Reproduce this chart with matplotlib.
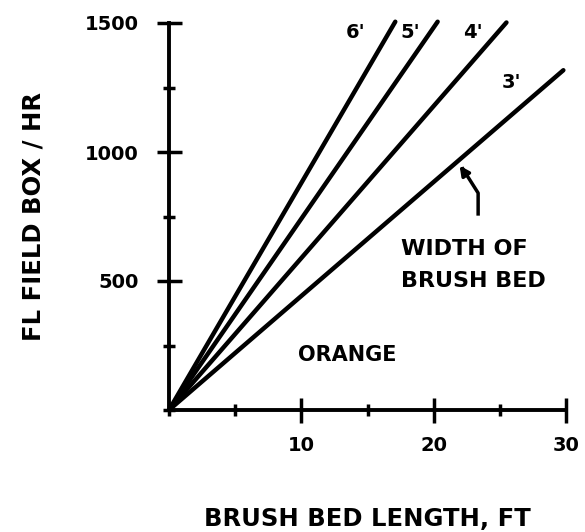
import matplotlib
matplotlib.use("Agg")
import matplotlib.pyplot as plt
from matplotlib.ticker import MultipleLocator

# brush bed width lines: (label, end length ft, end boxes/hr), all start at origin
widths = ["6'", "5'", "4'", "3'"]
end_length = [17.1, 20.3, 25.5, 29.8]
end_boxes = [1505, 1505, 1502, 1317]
label_x = [14.1, 18.2, 23.0, 25.9]
label_y = [1465, 1465, 1465, 1269]

x_ticks = [10, 20, 30]
y_ticks = [500, 1000, 1500]

plt.rcParams["font.family"] = "DejaVu Sans"
plt.rcParams["font.weight"] = "bold"

fig = plt.figure(figsize=(5.85, 5.32), dpi=100)
ax = fig.add_axes([169 / 585, 122 / 532, 397 / 585, 387 / 532])

for w, xe, ye, lx, ly in zip(widths, end_length, end_boxes, label_x, label_y):
    ax.plot([0, xe], [0, ye], color="black", lw=3.2, solid_capstyle="round", clip_on=False)
    ax.text(lx, ly, w, fontsize=14, fontweight="bold", ha="center", va="center")

ax.set_xlim(0, 30)
ax.set_ylim(0, 1500)
ax.spines["top"].set_visible(False)
ax.spines["right"].set_visible(False)
ax.spines["left"].set_linewidth(2.8)
ax.spines["bottom"].set_linewidth(2.8)

ax.set_xticks(x_ticks)
ax.set_yticks(y_ticks)
ax.xaxis.set_minor_locator(MultipleLocator(5))
ax.yaxis.set_minor_locator(MultipleLocator(250))
ax.tick_params(which="major", direction="inout", length=18, width=2.5)
ax.tick_params(which="minor", direction="inout", length=9, width=2.5)
ax.tick_params(axis="x", which="major", labelsize=14, pad=10)
ax.tick_params(axis="y", which="major", labelsize=14, pad=13)
for t in ax.get_xticklabels() + ax.get_yticklabels():
    t.set_fontweight("bold")

ax.set_xlabel("BRUSH BED LENGTH, FT", fontsize=17.5, fontweight="bold")
ax.set_ylabel("FL FIELD BOX / HR", fontsize=17.5, fontweight="bold")
ax.xaxis.set_label_coords(0.5, -0.25)
ax.yaxis.set_label_coords(-0.31, 0.5)

ax.text(13.5, 212, "ORANGE", fontsize=15, fontweight="bold", ha="center", va="center")
ax.text(17.5, 625, "WIDTH OF", fontsize=16, fontweight="bold", ha="left", va="center")
ax.text(17.5, 501, "BRUSH BED", fontsize=16, fontweight="bold", ha="left", va="center")

ax.plot([23.36, 23.36, 22.2], [760, 841, 935], color="black", lw=2.5)
ax.annotate("", xy=(21.84, 956), xytext=(22.4, 915),
            arrowprops=dict(arrowstyle="-|>", color="black", lw=2.5, mutation_scale=14))

fig.savefig("out.png", dpi=100)
